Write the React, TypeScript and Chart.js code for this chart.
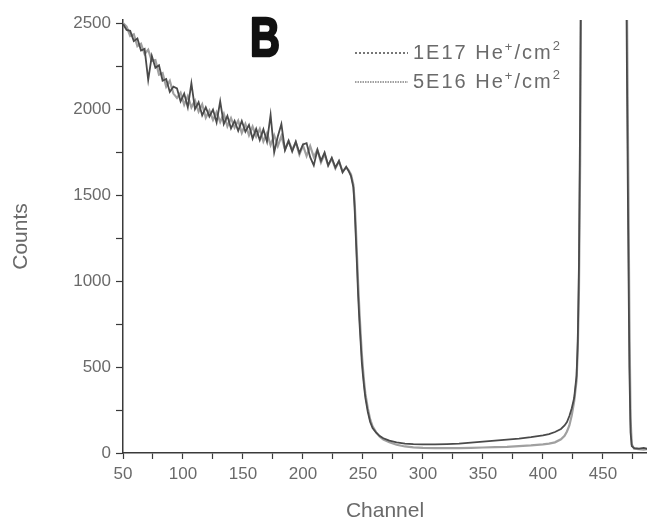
import { useEffect, useRef } from "react";
import { Chart, registerables } from "chart.js";

Chart.register(...registerables);

// Channel positions (shared by both spectra)
const channels = [
  50, 53, 56, 59, 62, 65, 68, 71, 74, 77, 80, 83, 86, 89, 92, 95, 98, 101, 104, 107,
  110, 113, 116, 119, 122, 125, 128, 131, 134, 137, 140, 143, 146, 149, 152, 155, 158, 161, 164, 167,
  170, 173, 176, 179, 182, 185, 188, 191, 194, 197, 200, 203, 206, 209, 212, 215, 218, 221, 224, 227,
  230, 233, 236,
  238, 240, 242, 243, 244, 245, 246, 247, 248, 249,
  250, 251, 252, 254, 256, 258, 261, 264, 267, 272,
  278, 285, 292, 300, 310, 320, 330, 340, 350, 360,
  370, 380, 390, 400, 405, 410, 415, 418, 420, 422,
  424, 426, 428, 429, 430, 431, 432, 469, 470, 471,
  472, 473, 474, 476, 480, 484, 487,
];

// Counts, 1E17 He+/cm2
const counts1E17 = [
  2495, 2460, 2455, 2395, 2410, 2340, 2350, 2170, 2310, 2240, 2255, 2165, 2175, 2100, 2130, 2120, 2045, 2090, 2010, 2150,
  2000, 2040, 1963, 2010, 1957, 1997, 1922, 2045, 1913, 1960, 1887, 1932, 1873, 1931, 1868, 1908, 1828, 1885, 1820, 1882,
  1810, 1966, 1748, 1840, 1913, 1761, 1815, 1753, 1811, 1745, 1794, 1802, 1720, 1672, 1763, 1699, 1748, 1672, 1717, 1660,
  1698, 1632, 1665,
  1640, 1610, 1545, 1430, 1260, 1090, 910, 770, 650, 530,
  450, 380, 320, 240, 180, 145, 118, 98, 86, 72,
  62, 55, 52, 50, 50, 52, 55, 60, 66, 72,
  78, 84, 92, 102, 110, 122, 140, 160, 180, 215,
  260, 320, 450, 650, 1100, 2000, 3200, 3200, 2200, 1300,
  500, 120, 40, 28, 25, 30, 24,
];

// Counts, 5E16 He+/cm2
const counts5E16 = [
  2500, 2480, 2425, 2435, 2365, 2380, 2320, 2345, 2280, 2285, 2200, 2210, 2130, 2165, 2090, 2065, 2095, 2025, 2075, 2010,
  2050, 1985, 2028, 1950, 1992, 1937, 1982, 1925, 1973, 1900, 1947, 1892, 1933, 1861, 1913, 1848, 1898, 1840, 1885, 1812,
  1860, 1791, 1848, 1785, 1843, 1766, 1815, 1763, 1806, 1735, 1789, 1727, 1785, 1722, 1763, 1689, 1738, 1672, 1712, 1655,
  1698, 1637, 1660,
  1645, 1620, 1560, 1470, 1320, 1150, 980, 830, 700, 580,
  490, 410, 345, 260, 195, 155, 120, 95, 78, 62,
  48, 38, 33, 30, 28, 28, 28, 30, 32, 34,
  36, 40, 44, 50, 55, 62, 80, 100, 125, 160,
  220, 300, 420, 600, 950, 1700, 3200, 3200, 2600, 1700,
  800, 200, 50, 25, 22, 20, 22,
];

const seriesLabels = ["1E17 He", "5E16 He"];
const xTickValues = [50, 75, 100, 125, 150, 175, 200, 225, 250, 275, 300, 325, 350, 375, 400, 425, 450, 475];
const yTickValues = [0, 250, 500, 750, 1000, 1250, 1500, 1750, 2000, 2250, 2500];
const panelLabel = "B";

const DARK = "#4a4a4a";
const LIGHT = "#a0a0a0";
const TEXT = "#6a6a6a";
const AXIS = "#3a3a3a";

const overlayPlugin = {
  id: "overlay",
  afterDraw(chart: any) {
    const ctx = chart.ctx as CanvasRenderingContext2D;
    ctx.save();
    // Panel label
    ctx.save();
    ctx.translate(265, 56);
    ctx.scale(0.74, 1);
    ctx.font = "bold 56px 'Liberation Sans', Arial, sans-serif";
    ctx.fillStyle = "#111";
    ctx.strokeStyle = "#111";
    ctx.lineWidth = 2.5;
    ctx.lineJoin = "round";
    ctx.textAlign = "center";
    ctx.textBaseline = "alphabetic";
    ctx.fillText(panelLabel, 0, 0);
    ctx.strokeText(panelLabel, 0, 0);
    ctx.restore();

    // Legend
    const rows = [
      { y: 53, color: DARK, dash: [2, 2], width: 1.5, label: seriesLabels[0] },
      { y: 82, color: LIGHT, dash: [1.5, 1], width: 2, label: seriesLabels[1] },
    ];
    for (const r of rows) {
      ctx.beginPath();
      ctx.setLineDash(r.dash);
      ctx.strokeStyle = r.color;
      ctx.lineWidth = r.width;
      ctx.moveTo(355, r.y);
      ctx.lineTo(408, r.y);
      ctx.stroke();
      ctx.setLineDash([]);
      ctx.fillStyle = TEXT;
      ctx.textBaseline = "middle";
      ctx.textAlign = "left";
      (ctx as any).letterSpacing = "2px";
      let x = 413;
      ctx.font = "20px 'Liberation Sans', Arial, sans-serif";
      ctx.fillText(r.label, x, r.y);
      x += ctx.measureText(r.label).width;
      ctx.font = "13px 'Liberation Sans', Arial, sans-serif";
      ctx.fillText("+", x, r.y - 6);
      x += ctx.measureText("+").width;
      ctx.font = "20px 'Liberation Sans', Arial, sans-serif";
      ctx.fillText("/cm", x, r.y);
      x += ctx.measureText("/cm").width;
      ctx.font = "13px 'Liberation Sans', Arial, sans-serif";
      ctx.fillText("2", x, r.y - 7);
      (ctx as any).letterSpacing = "0px";
    }
    ctx.restore();
  },
};

export default function App() {
  const ref = useRef<HTMLCanvasElement>(null);
  useEffect(() => {
    document.body.style.margin = "0";
    const tickFont = { family: "'Liberation Sans', Arial, sans-serif", size: 17 };
    const titleFont = { family: "'Liberation Sans', Arial, sans-serif", size: 21 };
    const chart = new Chart(ref.current as HTMLCanvasElement, {
      type: "line",
      data: {
        datasets: [
          {
            label: "1E17 He+/cm2",
            data: channels.map((c, i) => ({ x: c, y: counts1E17[i] })),
            borderColor: DARK,
            borderWidth: 1.8,
            pointRadius: 0,
            tension: 0,
            fill: false,
          },
          {
            label: "5E16 He+/cm2",
            data: channels.map((c, i) => ({ x: c, y: counts5E16[i] })),
            borderColor: LIGHT,
            borderWidth: 2.2,
            pointRadius: 0,
            tension: 0,
            fill: false,
          },
        ],
      },
      options: {
        responsive: false,
        animation: false,
        devicePixelRatio: 1,
        layout: { padding: { top: 20, right: 0, left: 0, bottom: 0 } },
        plugins: { legend: { display: false }, tooltip: { enabled: false } },
        scales: {
          x: {
            type: "linear",
            min: 50,
            max: 486.7,
            afterBuildTicks: (s: any) => {
              s.ticks = xTickValues.map((v) => ({ value: v }));
            },
            afterFit: (s: any) => {
              s.height = 74;
            },
            ticks: {
              autoSkip: false,
              maxRotation: 0,
              padding: 5,
              color: TEXT,
              font: tickFont,
              callback: (v: any) => (v % 50 === 0 && v <= 450 ? String(v) : ""),
            },
            grid: { drawOnChartArea: false, drawTicks: true, tickLength: 6, tickColor: AXIS, tickWidth: 1.2 },
            border: { display: true, color: AXIS, width: 1.5 },
            title: { display: true, text: "Channel", color: TEXT, font: titleFont, padding: { top: 0, bottom: 3 } },
          },
          y: {
            type: "linear",
            min: 0,
            max: 2518,
            afterBuildTicks: (s: any) => {
              s.ticks = yTickValues.map((v) => ({ value: v }));
            },
            afterFit: (s: any) => {
              s.width = 123;
            },
            ticks: {
              autoSkip: false,
              padding: 5,
              color: TEXT,
              font: tickFont,
              callback: (v: any) => (v % 500 === 0 ? String(v) : ""),
            },
            grid: { drawOnChartArea: false, drawTicks: true, tickLength: 7, tickColor: AXIS, tickWidth: 1.2 },
            border: { display: true, color: AXIS, width: 1.5 },
            title: { display: true, text: "Counts", color: TEXT, font: titleFont, padding: { top: 9, bottom: 0 } },
          },
        },
      },
      plugins: [overlayPlugin],
    });
    return () => chart.destroy();
  }, []);
  return (
    <div style={{ width: 647, height: 527 }}>
      <canvas ref={ref} width={647} height={527} style={{ display: "block" }} />
    </div>
  );
}
